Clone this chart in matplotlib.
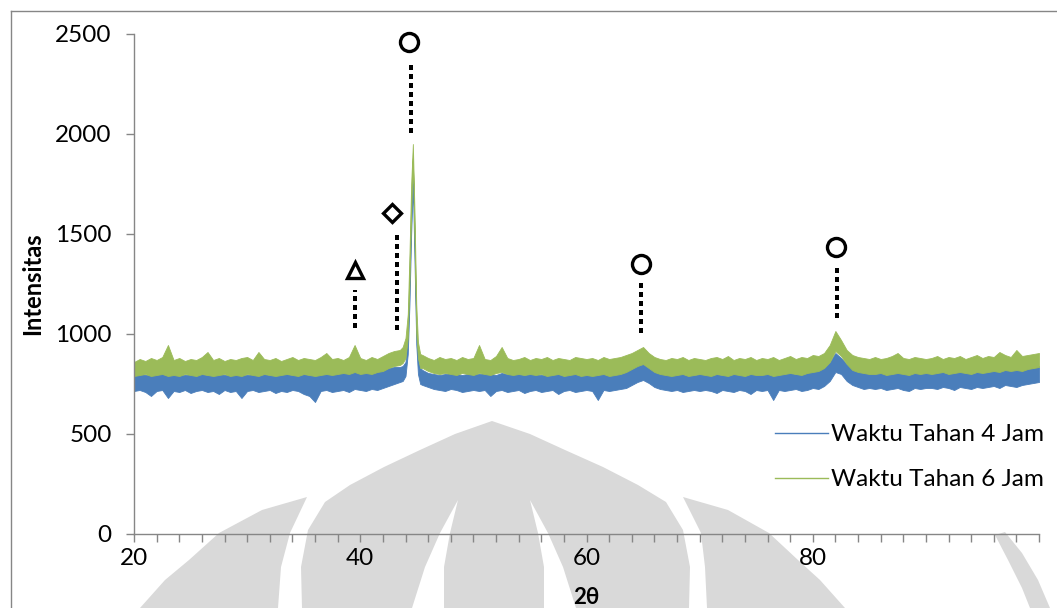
import numpy as np
import matplotlib
matplotlib.use("Agg")
import matplotlib.pyplot as plt
from matplotlib.patches import Polygon
from matplotlib.lines import Line2D

plt.rcParams['font.family'] = ['Lato', 'DejaVu Sans']

# ---------------------------------------------------------------------------
# Diffraction traces: each scan is stored as the lower / upper edge of its
# noisy band at each 2-theta position (denser sampling around the main peak).
# ---------------------------------------------------------------------------
two_theta = np.concatenate([
    np.arange(20.0, 43.5, 0.5),
    [43.5, 43.75, 44.0, 44.2, 44.35, 44.5, 44.65, 44.8, 44.95, 45.1, 45.3],
    np.arange(45.5, 100.01, 0.5),
])

jam4_low = [
    715, 720, 710, 690, 715, 720, 680, 715, 710, 720, 705, 715, 720, 710, 715, 700,
    720, 710, 715, 680, 715, 720, 710, 715, 720, 705, 715, 710, 720, 715, 700, 690,
    660, 715, 720, 710, 715, 720, 710, 725, 720, 715, 725, 720, 730, 740, 750,
    760, 765, 790, 900, 1150, 1500, 1750, 1350, 950, 800, 750,
    745, 735, 725, 720, 715, 725, 720, 710, 715, 720,
    715, 720, 690, 715, 720, 710, 715, 720, 705, 715,
    720, 710, 715, 720, 700, 715, 720, 710, 715, 720,
    715, 670, 720, 715, 720, 725, 730, 745, 760, 770,
    755, 735, 725, 720, 715, 720, 710, 715, 720, 715,
    720, 715, 705, 720, 715, 710, 720, 715, 700, 720,
    715, 720, 670, 720, 715, 720, 725, 715, 720, 730,
    725, 740, 765, 810, 800, 765, 745, 735, 725, 730,
    725, 730, 720, 725, 730, 720, 715, 730, 725, 730,
    730, 725, 735, 730, 720, 735, 730, 725, 735, 730,
    735, 740, 730, 745, 740, 735, 745, 750, 755, 760,
]
jam4_high = [
    800, 805, 795, 800, 805, 800, 795, 805, 800, 795, 800, 805, 800, 795, 800, 805,
    795, 800, 805, 800, 795, 800, 805, 800, 795, 800, 805, 800, 795, 805, 800, 795,
    800, 805, 800, 805, 800, 810, 805, 815, 805, 810, 805, 815, 820, 830, 835,
    835, 840, 860, 1000, 1300, 1650, 1850, 1500, 1050, 880, 830,
    820, 805, 800, 795, 800, 805, 800, 795, 800, 805,
    800, 805, 800, 795, 805, 800, 805, 800, 795, 800,
    800, 795, 800, 805, 800, 795, 800, 805, 800, 795,
    800, 795, 805, 800, 805, 810, 820, 835, 850, 860,
    835, 815, 805, 800, 795, 800, 805, 800, 795, 800,
    800, 805, 800, 795, 800, 805, 800, 795, 800, 805,
    800, 805, 800, 805, 810, 805, 800, 805, 810, 815,
    820, 835, 860, 905, 880, 850, 830, 815, 810, 805,
    805, 810, 805, 800, 810, 805, 800, 810, 805, 810,
    805, 810, 815, 805, 810, 815, 810, 805, 815, 820,
    815, 820, 815, 825, 820, 825, 820, 830, 835, 840,
]
jam6_low = [
    790, 795, 800, 790, 795, 800, 790, 795, 790, 800, 795, 790, 800, 795, 790, 795,
    800, 790, 795, 790, 800, 795, 790, 800, 795, 790, 795, 800, 795, 790, 800, 795,
    790, 795, 800, 795, 800, 805, 800, 810, 800, 805, 800, 810, 815, 830, 840,
    845, 855, 880, 980, 1250, 1600, 1880, 1450, 1000, 880, 830,
    830, 815, 805, 800, 805, 800, 795, 805, 800, 795,
    805, 800, 795, 805, 810, 800, 795, 800, 795, 800,
    795, 800, 790, 795, 800, 790, 795, 800, 790, 795,
    790, 795, 800, 790, 795, 800, 810, 825, 840, 850,
    830, 810, 800, 795, 790, 795, 800, 790, 795, 800,
    795, 790, 800, 795, 790, 800, 795, 790, 800, 795,
    795, 800, 790, 795, 800, 805, 800, 795, 805, 810,
    815, 830, 860, 915, 890, 850, 820, 810, 805, 800,
    800, 805, 795, 800, 805, 800, 795, 805, 800, 805,
    800, 805, 810, 800, 805, 810, 805, 800, 810, 805,
    810, 815, 810, 820, 815, 820, 815, 825, 830, 835,
]
jam6_high = [
    860, 875, 865, 880, 870, 885, 945, 870, 880, 865, 875, 870, 885, 910, 870, 880,
    865, 875, 870, 880, 885, 870, 910, 875, 870, 880, 865, 875, 885, 870, 880, 875,
    870, 885, 905, 875, 880, 870, 885, 945, 880, 870, 885, 875, 890, 905, 915,
    920, 935, 980, 1100, 1400, 1750, 1950, 1600, 1150, 960, 900,
    895, 880, 870, 885, 875, 880, 870, 885, 875, 880,
    945, 875, 870, 890, 935, 880, 870, 875, 885, 870,
    880, 875, 885, 870, 880, 875, 870, 885, 880, 875,
    880, 870, 885, 875, 880, 885, 895, 905, 920, 935,
    905, 885, 875, 870, 880, 875, 885, 870, 880, 875,
    870, 880, 885, 875, 890, 870, 880, 875, 885, 870,
    880, 875, 885, 870, 880, 890, 875, 885, 880, 895,
    890, 905, 945, 1015, 970, 920, 895, 885, 880, 875,
    885, 875, 880, 890, 905, 880, 875, 885, 880, 875,
    880, 890, 875, 885, 880, 890, 875, 885, 895, 880,
    890, 885, 910, 895, 885, 920, 890, 895, 900, 905,
]

series_labels = ["Waktu Tahan 4 Jam", "Waktu Tahan 6 Jam"]
series_colors = ["#4a7ebb", "#9bbb59"]

# Phase markers: symbol, 2-theta and height of the symbol,
# 2-theta of the dotted guide and its bottom / top
phase_marks = [
    ("^", 39.5, 1320, 39.5, 1030, 1220),
    ("D", 42.8, 1605, 43.25, 1020, 1505),
    ("o", 44.3, 2460, 44.5, 2005, 2355),
    ("o", 64.8, 1350, 64.8, 1005, 1255),
    ("o", 82.05, 1435, 82.1, 1080, 1330),
]

W, H = 1057, 608
fig = plt.figure(figsize=(W / 100, H / 100), dpi=100)


def fx(px):
    return px / W


def fy(py):
    return 1 - py / H


# Background watermark emblem
wm_color = "#d9d9d9"
wm_shapes = [
    # central dome
    [(492, 421), (455, 434), (420, 450), (384, 467), (350, 485), (325, 502),
     (308, 530), (301, 567), (302, 608), (689, 608), (690, 567), (683, 530),
     (666, 502), (638, 485), (603, 467), (565, 450), (530, 434)],
    # left lobe
    [(307, 497), (290, 533), (281, 567), (278, 608), (140, 608), (165, 580),
     (189, 560), (219, 533), (262, 510)],
    # right lobe
    [(683, 497), (701, 533), (705, 567), (707, 608), (845, 608), (820, 580),
     (798, 560), (769, 533), (728, 510)],
    # far right arc
    [(995, 535), (1008, 560), (1022, 588), (1030, 608), (1050, 608),
     (1038, 580), (1022, 553), (1005, 532)],
]
for shape in wm_shapes:
    fig.add_artist(Polygon([(fx(x), fy(y)) for x, y in shape], closed=True,
                           transform=fig.transFigure, facecolor=wm_color,
                           edgecolor="none", zorder=-2))
wm_cuts = [
    [(458, 500), (440, 533), (425, 567), (412, 608), (444, 608), (444, 567),
     (450, 533)],
    [(530, 500), (548, 533), (563, 567), (576, 608), (544, 608), (544, 567),
     (538, 533)],
]
for shape in wm_cuts:
    fig.add_artist(Polygon([(fx(x), fy(y)) for x, y in shape], closed=True,
                           transform=fig.transFigure, facecolor="white",
                           edgecolor="none", zorder=-1))

# Chart frame
frame_color = "#868686"
fig.add_artist(Line2D([fx(10.5), fx(10.5)], [fy(10.5), 0], transform=fig.transFigure,
                      color=frame_color, lw=1.0))
fig.add_artist(Line2D([fx(10.5), 1], [fy(10.5), fy(10.5)], transform=fig.transFigure,
                      color=frame_color, lw=1.0))

ax = fig.add_axes([fx(134), fy(534), (1039 - 134) / W, 500 / H])
ax.set_facecolor("none")

bands = [(jam4_low, jam4_high), (jam6_low, jam6_high)]
handles = []
for (lo, hi), label, color in zip(bands, series_labels, series_colors):
    ax.fill_between(two_theta, lo, hi, color=color, linewidth=0.6, edgecolor=color)
    handles.append(Line2D([], [], color=color, lw=1.0, label=label))

for marker, xm, ym, xl, y0, y1 in phase_marks:
    ax.plot([xl, xl], [y0, y1], color="black", lw=2.9, linestyle=(0, (1, 1)),
            antialiased=False)
    size = {"o": 13, "^": 12, "D": 9}[marker]
    ax.plot([xm], [ym], marker=marker, markersize=size, markerfacecolor="white",
            markeredgecolor="black", markeredgewidth=2.4, linestyle="none",
            clip_on=False, zorder=5)

ax.set_xlim(20, 100)
ax.set_ylim(0, 2500)
ax.set_yticks(np.arange(0, 2501, 500))
ax.set_xticks(np.arange(20, 101, 2))
ax.set_xticklabels([str(v) if v in (20, 40, 60, 80) else "" for v in range(20, 101, 2)])

for side in ("top", "right"):
    ax.spines[side].set_visible(False)
for side in ("left", "bottom"):
    ax.spines[side].set_color(frame_color)
    ax.spines[side].set_linewidth(1.0)
ax.tick_params(axis="both", direction="out", length=6, width=1.0, color=frame_color,
               labelsize=17.5, labelcolor="black")
ax.tick_params(axis="y", pad=10)
ax.tick_params(axis="x", pad=4)

ax.set_ylabel("Intensitas", fontsize=17, fontweight="bold", labelpad=8)
ax.set_xlabel("2θ", fontsize=16, fontweight="bold", labelpad=13)

ax.legend(handles=handles, loc="upper left",
          bbox_to_anchor=(fx(775), fy(424)), bbox_transform=fig.transFigure,
          borderaxespad=0, borderpad=0, frameon=False, fontsize=17.5,
          handlelength=2.2, handletextpad=0.12, labelspacing=1.0)

fig.savefig("out.png", dpi=100)
